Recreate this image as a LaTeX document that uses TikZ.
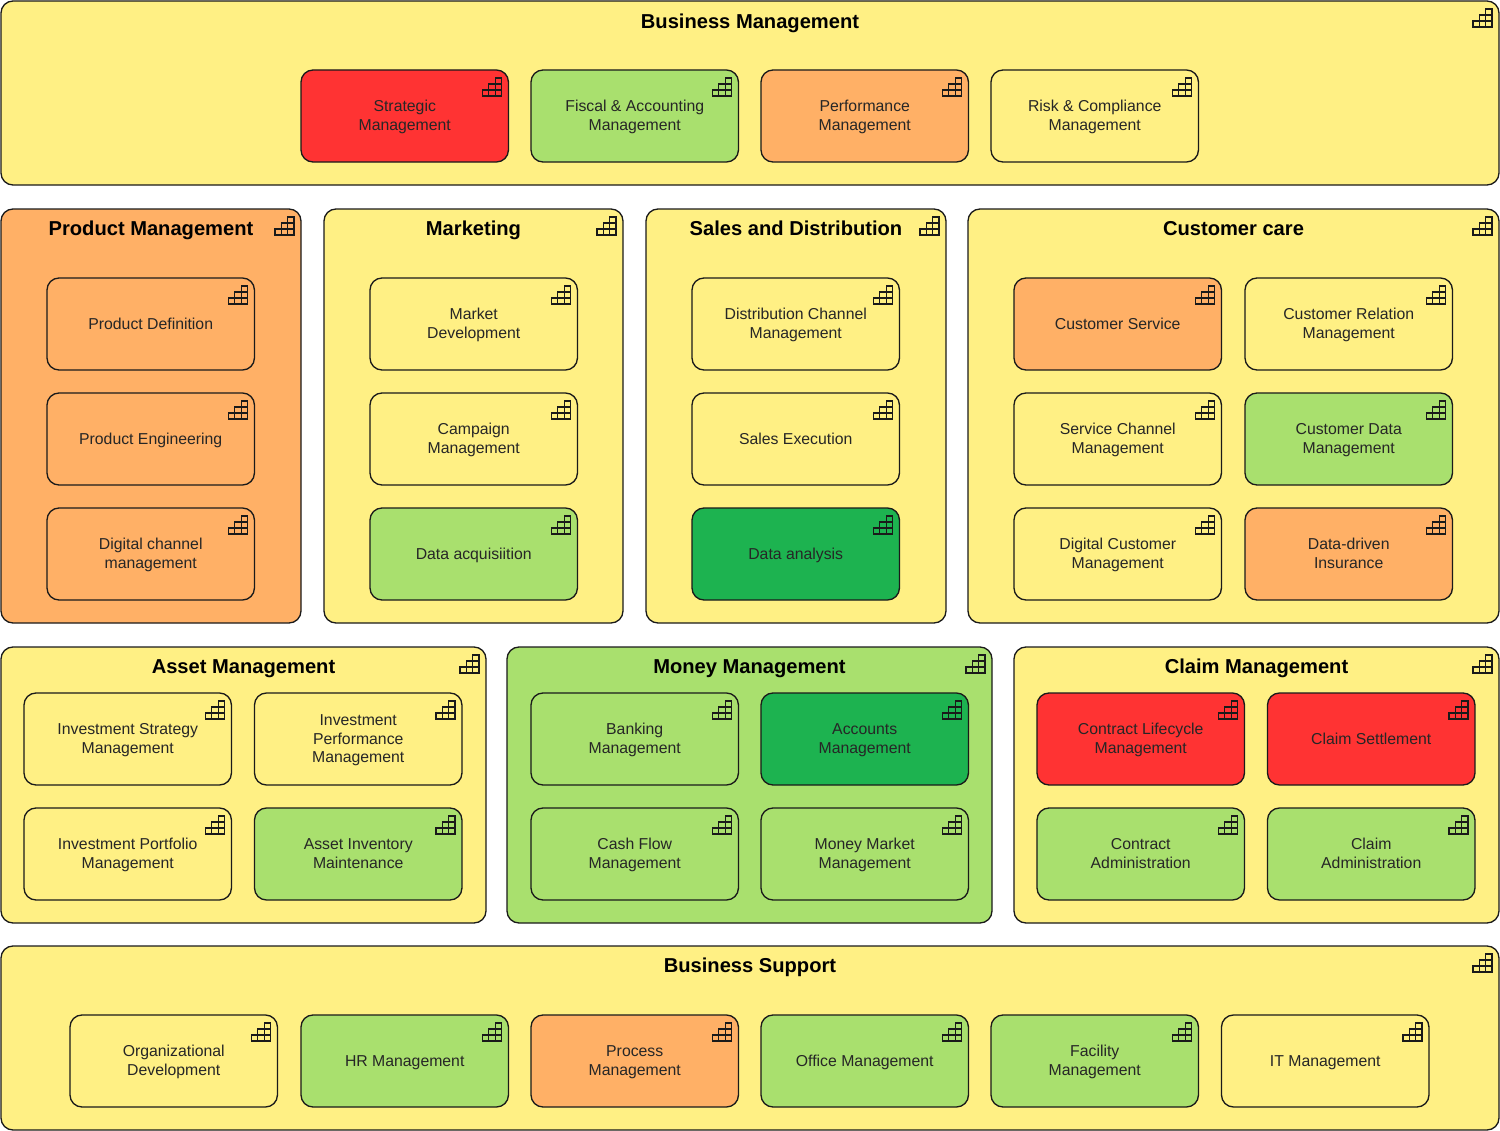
\documentclass[tikz,border=0pt]{standalone}
\usepackage{fontspec}
\setmainfont{Liberation Sans}
\definecolor{capyellow}{HTML}{FFF084}
\definecolor{caporange}{HTML}{FFB066}
\definecolor{capred}{HTML}{FF3333}
\definecolor{capgreen}{HTML}{A9E06E}
\definecolor{capdark}{HTML}{1DB350}
\definecolor{capline}{HTML}{1A1A1A}
\newcommand{\captop}{\rule{0pt}{12pt}}
\newcommand{\capbot}{\rule[-4.2pt]{0pt}{4.2pt}}
\tikzset{
  capbase/.style={draw=capline,line width=1pt,rounded corners=9pt,outer sep=0pt,inner sep=0pt,anchor=north west},
  areabox/.style={capbase},
  itembox/.style={capbase,minimum width=155.6pt,minimum height=69pt,align=center,text=black!85,font=\fontsize{11.85}{14}\selectfont},
  areatitle/.style={font=\bfseries\fontsize{15.1}{18}\selectfont,text=black,inner sep=0pt,outer sep=0pt,anchor=base},
  iconline/.style={draw=capline,line width=0.9pt}
}
% icon at the top right corner of node #1
\newcommand{\capicon}[1]{%
  \draw[iconline,shift={(#1.north east)}]
    (-13.3,8) rectangle (-7,14)
    (-19.6,14) rectangle (-7,20)
    (-26,20) rectangle (-7,26)
    (-13.3,14) -- (-13.3,26)
    (-19.6,20) -- (-19.6,26);}
% name, x, y, fill, text
\newcommand{\capitem}[5]{%
  \node[itembox,fill=#4] (#1) at (#2,#3) {\captop #5\capbot};
  \capicon{#1}}
% name, x0, y0, x1, y1, fill, title, title baseline y
\newcommand{\caparea}[8]{%
  \node[areabox,fill=#6,minimum width={(#4-#2)*0.75pt},minimum height={(#5-#3)*0.75pt}] (#1) at (#2,#3) {};
  \node[areatitle] (#1title) at ({(#2+#4)/2},#8) {#7};
  \capicon{#1}}
\begin{document}
\begin{tikzpicture}[x=0.75pt,y=-0.75pt]
\useasboundingbox (0,0) rectangle (1500,1131);
% Business Management
\caparea{bm}{1}{1}{1499}{185}{capyellow}{Business Management}{29}
\capitem{bmA}{301}{70}{capred}{Strategic\\Management}
\capitem{bmB}{531}{70}{capgreen}{Fiscal \& Accounting\\Management}
\capitem{bmC}{761}{70}{caporange}{Performance\\Management}
\capitem{bmD}{991}{70}{capyellow}{Risk \& Compliance\\Management}
% Product Management
\caparea{pm}{1}{209}{301}{623}{caporange}{Product Management}{235}
\capitem{pmA}{47}{278}{caporange}{Product Definition}
\capitem{pmB}{47}{393}{caporange}{Product Engineering}
\capitem{pmC}{47}{508}{caporange}{Digital channel\\management}
% Marketing
\caparea{mk}{324}{209}{623}{623}{capyellow}{Marketing}{235}
\capitem{mkA}{370}{278}{capyellow}{Market\\Development}
\capitem{mkB}{370}{393}{capyellow}{Campaign\\Management}
\capitem{mkC}{370}{508}{capgreen}{Data acquisiition}
% Sales and Distribution
\caparea{sd}{646}{209}{946}{623}{capyellow}{Sales and Distribution}{235}
\capitem{sdA}{692}{278}{capyellow}{Distribution Channel\\Management}
\capitem{sdB}{692}{393}{capyellow}{Sales Execution}
\capitem{sdC}{692}{508}{capdark}{Data analysis}
% Customer care
\caparea{cc}{968}{209}{1499}{623}{capyellow}{Customer care}{235}
\capitem{ccA}{1014}{278}{caporange}{Customer Service}
\capitem{ccB}{1245}{278}{capyellow}{Customer Relation\\Management}
\capitem{ccC}{1014}{393}{capyellow}{Service Channel\\Management}
\capitem{ccD}{1245}{393}{capgreen}{Customer Data\\Management}
\capitem{ccE}{1014}{508}{capyellow}{Digital Customer\\Management}
\capitem{ccF}{1245}{508}{caporange}{Data-driven\\Insurance}
% Asset Management
\caparea{am}{1}{647}{486}{923}{capyellow}{Asset Management}{673}
\capitem{amA}{24}{693}{capyellow}{Investment Strategy\\Management}
\capitem{amB}{254.5}{693}{capyellow}{Investment\\Performance\\Management}
\capitem{amC}{24}{808}{capyellow}{Investment Portfolio\\Management}
\capitem{amD}{254.5}{808}{capgreen}{Asset Inventory\\Maintenance}
% Money Management
\caparea{mm}{507}{647}{992}{923}{capgreen}{Money Management}{673}
\capitem{mmA}{531}{693}{capgreen}{Banking\\Management}
\capitem{mmB}{761}{693}{capdark}{Accounts\\Management}
\capitem{mmC}{531}{808}{capgreen}{Cash Flow\\Management}
\capitem{mmD}{761}{808}{capgreen}{Money Market\\Management}
% Claim Management
\caparea{cl}{1014}{647}{1499}{923}{capyellow}{Claim Management}{673}
\capitem{clA}{1037}{693}{capred}{Contract Lifecycle\\Management}
\capitem{clB}{1267.5}{693}{capred}{Claim Settlement}
\capitem{clC}{1037}{808}{capgreen}{Contract\\Administration}
\capitem{clD}{1267.5}{808}{capgreen}{Claim\\Administration}
% Business Support
\caparea{bs}{1}{946}{1499}{1130}{capyellow}{Business Support}{972}
\capitem{bsA}{70}{1015}{capyellow}{Organizational\\Development}
\capitem{bsB}{301}{1015}{capgreen}{HR Management}
\capitem{bsC}{531}{1015}{caporange}{Process\\Management}
\capitem{bsD}{761}{1015}{capgreen}{Office Management}
\capitem{bsE}{991}{1015}{capgreen}{Facility\\Management}
\capitem{bsF}{1221.5}{1015}{capyellow}{IT Management}
\end{tikzpicture}
\end{document}
